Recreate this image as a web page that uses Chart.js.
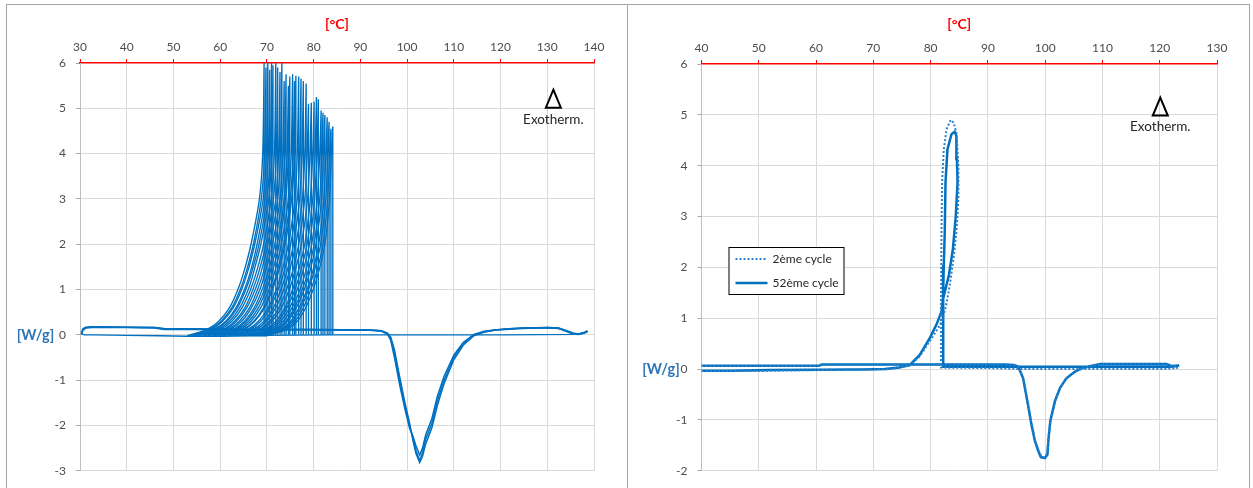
<!DOCTYPE html>
<html><head><meta charset="utf-8">
<script src="https://cdn.jsdelivr.net/npm/chart.js@4.4.1/dist/chart.umd.min.js"></script>
<style>
html,body{margin:0;padding:0;background:#fff;}
body{width:1253px;height:488px;position:relative;overflow:hidden;font-family:Lato,sans-serif;}
.panel{position:absolute;top:4px;height:490px;border:1px solid #a6a6a6;box-sizing:border-box;}
#p1{left:6px;width:622px;}
#p2{left:627px;width:623px;}
canvas{position:absolute;top:0;}
#c1{left:0;width:627px;height:488px;}
#c2{left:627px;width:626px;height:488px;}
</style></head><body>
<div class="panel" id="p1"></div><div class="panel" id="p2"></div>
<canvas id="c1" width="627" height="488"></canvas>
<canvas id="c2" width="626" height="488"></canvas>
<script>
// ---------- LEFT PANEL DATA (all cycles) ----------
const leftXTicks = [30,40,50,60,70,80,90,100,110,120,130,140];
const leftYTicks = [-3,-2,-1,0,1,2,3,4,5,6];
// heating runs (three overlapping cycles)
const heatT  = [30.3,30.6,31.2,32.5,35,40,46,48,60,80,92,94.5,95.8,96.5,97.3,98.4,99.5,100.5,101.3,101.9,102.7,103.3,104,105.3,106.5,107.9,110,112,114.3,116.5,118.6,121,124.7,130,132.4,134,135.5,136.7,138,138.6];
const heatW_a = [0.02,0.12,0.16,0.17,0.17,0.17,0.16,0.13,0.12,0.12,0.11,0.09,0.03,-0.08,-0.4,-1.0,-1.55,-2.0,-2.3,-2.55,-2.78,-2.6,-2.3,-1.95,-1.45,-1.0,-0.5,-0.2,0.0,0.07,0.1,0.13,0.15,0.16,0.15,0.09,0.03,0.02,0.05,0.08];
const heatW_b = [0.01,0.1,0.15,0.16,0.16,0.16,0.15,0.12,0.12,0.11,0.1,0.08,0.02,-0.12,-0.5,-1.1,-1.62,-2.05,-2.25,-2.45,-2.65,-2.5,-2.2,-1.85,-1.35,-0.92,-0.45,-0.17,0.01,0.08,0.11,0.13,0.15,0.15,0.14,0.08,0.02,0.01,0.04,0.07];
const heatW_c = [0.03,0.13,0.17,0.18,0.18,0.17,0.16,0.14,0.13,0.12,0.11,0.09,0.04,-0.05,-0.33,-0.92,-1.48,-1.93,-2.35,-2.62,-2.82,-2.68,-2.4,-2.05,-1.55,-1.08,-0.55,-0.23,-0.02,0.06,0.1,0.12,0.14,0.16,0.15,0.1,0.04,0.02,0.06,0.09];
// cooling line before crystallisation
const coolT = [138.6,137,120,100,84.1,69.4];
const coolW = [0.07,0.01,0.0,0.0,0.0,-0.01];
// baseline after crystallisation
const lowT = [70,66,60,53,47,40,33,31,30.3];
const lowW = [-0.02,-0.02,-0.03,-0.03,-0.02,-0.01,0.0,0.0,0.02];
// exotherm peaks: crystallisation temperature, peak height
const exoTc = [69.4,69.8,70.2,70.6,71.0,71.3,71.9,72.3,72.8,73.2,73.7,74.1,74.6,74.9,75.5,75.9,76.2,76.8,77.3,77.8,78.4,78.9,79.5,80.1,80.6,81.0,81.6,82.0,82.4,82.9,83.3,83.7,84.1];
const exoPeak = [6.0,5.9,6.0,5.85,6.0,5.95,6.0,5.9,5.8,6.0,5.6,5.75,5.5,5.7,5.75,5.6,5.72,5.7,5.65,5.6,5.55,5.1,5.12,5.15,5.25,5.2,4.95,4.9,4.85,4.8,4.7,4.55,4.6];
// W/g levels and the temperature where each decay curve crosses them
const exoLevels = [4,3,2,1.4,1,0.6,0.3,0.12,-0.02];
const exoCross = [
 [69.1,68.4,66.6,65.1,63.8,62.0,59.7,57.2,52.9],
 [69.5,68.8,67.1,65.6,64.3,62.5,60.2,57.7,53.4],
 [69.9,69.2,67.4,65.9,64.6,62.8,60.5,58.1,53.8],
 [70.3,69.6,67.9,66.5,65.2,63.4,61.2,58.7,54.4],
 [70.7,70.0,68.3,66.8,65.5,63.7,61.5,59.0,54.7],
 [71.0,70.4,68.7,67.2,66.0,64.2,62.0,59.5,55.2],
 [71.6,70.9,69.3,67.8,66.5,64.7,62.5,60.0,55.7],
 [72.0,71.4,69.8,68.3,67.0,65.3,63.1,60.7,56.4],
 [72.5,71.9,70.2,68.8,67.5,65.7,63.5,61.1,56.8],
 [72.9,72.3,70.7,69.3,68.0,66.3,64.1,61.7,57.4],
 [73.4,72.8,71.2,69.7,68.5,66.7,64.6,62.1,57.8],
 [73.8,73.2,71.7,70.3,69.0,67.3,65.2,62.8,58.5],
 [74.3,73.7,72.2,70.7,69.5,67.7,65.6,63.2,58.9],
 [74.6,74.0,72.6,71.2,69.9,68.2,66.1,63.7,59.4],
 [75.2,74.6,73.1,71.7,70.5,68.7,66.6,64.3,60.0],
 [75.6,75.0,73.6,72.2,71.0,69.3,67.2,64.9,60.6],
 [75.9,75.3,73.9,72.5,71.2,69.5,67.4,65.1,60.8],
 [76.5,76.0,74.6,73.2,72.0,70.3,68.2,65.9,61.6],
 [77.0,76.5,75.1,73.7,72.4,70.7,68.7,66.3,62.0],
 [77.5,77.0,75.7,74.3,73.0,71.4,69.4,67.0,62.7],
 [78.1,77.6,76.2,74.8,73.6,71.9,69.9,67.6,63.3],
 [78.6,78.1,76.8,75.5,74.2,72.6,70.6,68.3,64.0],
 [79.2,78.7,77.4,76.0,74.8,73.1,71.1,68.8,64.5],
 [79.8,79.3,78.1,76.7,75.5,73.9,71.9,69.6,65.3],
 [80.3,79.8,78.6,77.2,76.0,74.3,72.4,70.1,65.8],
 [80.7,80.2,79.1,77.7,76.5,74.9,72.9,70.7,66.4],
 [81.3,80.8,79.6,78.3,77.1,75.4,73.5,71.2,66.9],
 [81.7,81.3,80.1,78.8,77.6,75.9,74.1,71.8,67.5],
 [82.1,81.7,80.5,79.2,78.0,76.3,74.4,72.2,67.9],
 [82.6,82.2,81.1,79.8,78.6,76.9,75.1,72.9,68.6],
 [83.0,82.6,81.5,80.1,78.9,77.3,75.5,73.2,68.9],
 [83.4,83.0,82.0,80.7,79.4,77.8,76.0,73.8,69.5],
 [83.8,83.4,82.4,81.1,79.9,78.3,76.5,74.3,70.0]
];

// ---------- RIGHT PANEL DATA (2nd and 52nd cycle) ----------
const rightXTicks = [40,50,60,70,80,90,100,110,120,130];
const rightYTicks = [-2,-1,0,1,2,3,4,5,6];
const seriesNames = ['2ème cycle','52ème cycle'];
const c2T = [40,60.5,61,80,93,94.5,95.3,96.15,97.0,97.6,98.2,98.8,99.3,99.9,100.35,100.6,100.95,101.8,102.7,103.8,105.3,106.7,109.6,121.2,122.1,123.0,
             123.0,121,105.4,96.3,90,81.8,81.8,81.9,82.0,82.3,82.8,83.5,84.0,84.5,84.85,84.85,84.5,84.0,83.35,82.7,82.0,81.0,79.85,78.1,76.35,73,68.2,63.6,60,51.5,45,40];
const c2W = [0.06,0.06,0.085,0.085,0.085,0.075,0.045,-0.17,-0.68,-1.06,-1.38,-1.59,-1.71,-1.74,-1.66,-1.33,-1.0,-0.61,-0.35,-0.17,-0.05,0.02,0.09,0.09,0.05,0.06,
             0.02,0.0,0.0,0.0,0.02,0.03,1.2,2.69,3.67,4.32,4.72,4.9,4.85,4.65,4.0,3.35,2.69,2.17,1.65,1.25,0.95,0.75,0.55,0.25,0.07,0.0,-0.01,-0.01,-0.02,-0.035,-0.035,-0.035];
const c52T = [40,60.5,61,80,93,94.5,95.3,96.15,97.0,97.6,98.2,98.8,99.25,99.95,100.4,100.6,100.9,101.7,102.6,103.7,105.2,106.6,109.6,121.2,122.1,123.4,
              123.4,122,110,100,90,82.2,82.2,83.2,83.9,84.4,84.7,84.6,84.5,84.2,83.64,82.94,82.6,82.47,82.3,82.17,81.9,81.0,79.85,78.1,76.35,74.5,72,68,52,45,40];
const c52W = [0.065,0.065,0.09,0.09,0.09,0.08,0.05,-0.18,-0.7,-1.09,-1.41,-1.61,-1.73,-1.75,-1.68,-1.35,-1.02,-0.63,-0.37,-0.18,-0.05,0.03,0.1,0.1,0.06,0.07,
              0.07,0.045,0.045,0.045,0.045,0.045,1.39,1.85,2.37,3.02,3.67,4.13,4.59,4.67,4.62,4.32,3.67,2.69,2.04,1.39,1.13,0.87,0.61,0.28,0.08,0.03,0.0,-0.01,-0.02,-0.03,-0.03];

// ---------- helpers ----------
const BLUE = '#0070C0';
const pts = (T, W) => T.map((t, i) => ({x: t, y: W[i]}));

const decor = {
  id: 'decor',
  afterDatasetsDraw(chart, args, o) {
    const {ctx, chartArea: ca} = chart;
    const x = chart.scales.x, y = chart.scales.y;
    ctx.save();
    ctx.font = 'bold 14.5px Lato';
    ctx.fillStyle = '#2E75B6';
    ctx.textAlign = 'center';
    ctx.textBaseline = 'middle';
    ctx.fillText('[W/g]', o.yTitleX, y.getPixelForValue(0));
    const ax = x.getPixelForValue(o.exoT), ay = y.getPixelForValue(o.exoW);
    ctx.beginPath();
    ctx.moveTo(ax, ay); ctx.lineTo(ax + 7.5, ay + 18); ctx.lineTo(ax - 7.5, ay + 18); ctx.closePath();
    ctx.lineWidth = 2; ctx.strokeStyle = '#000'; ctx.stroke();
    ctx.font = '13.5px Lato';
    ctx.fillStyle = '#262626';
    ctx.fillText('Exotherm.', ax, ay + 29.5);
    if (o.legend) {
      const lx = ca.left + 27, ly = ca.top + 183;
      ctx.fillStyle = '#fff';
      ctx.fillRect(lx, ly, 116, 48);
      ctx.lineWidth = 1; ctx.strokeStyle = '#000';
      ctx.strokeRect(lx + 0.5, ly + 0.5, 115, 47);
      chart.data.datasets.forEach((ds, i) => {
        const yy = ly + 12 + i * 24;
        ctx.beginPath();
        ctx.setLineDash(ds.borderDash || []);
        ctx.lineWidth = ds.borderWidth; ctx.strokeStyle = ds.borderColor;
        ctx.moveTo(lx + 7, yy); ctx.lineTo(lx + 39, yy); ctx.stroke();
        ctx.setLineDash([]);
        ctx.font = '12px Lato'; ctx.fillStyle = '#262626';
        ctx.textAlign = 'left';
        ctx.fillText(ds.label, lx + 44, yy);
      });
    }
    ctx.restore();
  }
};

function scalesFor(xTicks, yTicks, yWidth, xHeight) {
  return {
    x: {
      type: 'linear', position: 'top',
      min: xTicks[0], max: xTicks[xTicks.length - 1],
      afterBuildTicks: s => { s.ticks = xTicks.map(v => ({value: v})); },
      afterFit: s => { s.height = xHeight; },
      ticks: {color: '#4d4d4d', font: {family: 'Lato', size: 12}, padding: 5, maxRotation: 0, callback: v => String(v)},
      grid: {color: '#d9d9d9', tickColor: '#ff0000', tickLength: 4, lineWidth: 1},
      border: {color: '#ff0000', width: 1.5},
      title: {display: true, text: '[°C]', color: '#ff0000', font: {family: 'Lato', size: 14, weight: 'bold'}, padding: {top: 16, bottom: 0}}
    },
    y: {
      type: 'linear', position: 'left',
      min: yTicks[0], max: yTicks[yTicks.length - 1],
      afterBuildTicks: s => { s.ticks = yTicks.map(v => ({value: v})); },
      afterFit: s => { s.width = yWidth; },
      ticks: {color: '#4d4d4d', font: {family: 'Lato', size: 12}, padding: 10, callback: v => String(v)},
      grid: {color: c => (c.tick && c.tick.value === yTicks[yTicks.length - 1]) ? 'rgba(0,0,0,0)' : '#d9d9d9', tickColor: '#a6a6a6', tickLength: 4},
      border: {color: '#bfbfbf', width: 1}
    }
  };
}

// ---------- LEFT CHART ----------
const leftSets = [];
[heatW_a, heatW_b, heatW_c].forEach(w => leftSets.push({data: pts(heatT, w), borderWidth: 1.5}));
leftSets.push({data: pts(coolT, coolW), borderWidth: 1.2});
leftSets.push({data: pts(lowT, lowW), borderWidth: 1.3});
exoTc.forEach((tc, i) => {
  const d = [{x: tc, y: 0.0}, {x: tc, y: exoPeak[i]}, {x: tc, y: exoPeak[i]}];
  exoCross[i].forEach((t, k) => d.push({x: t, y: exoLevels[k]}));
  leftSets.push({data: d, borderWidth: 1.35, tension: 0.3});
});
leftSets.forEach(ds => Object.assign(ds, {showLine: true, pointRadius: 0, borderColor: BLUE, fill: false, tension: ds.tension || 0}));

new Chart(document.getElementById('c1'), {
  type: 'scatter',
  data: {datasets: leftSets},
  options: {
    responsive: false, animation: false, events: [],
    layout: {padding: {left: 0, right: 33, top: 0, bottom: 15}},
    scales: scalesFor(leftXTicks, leftYTicks, 80, 63),
    plugins: {legend: {display: false}, tooltip: {enabled: false},
      decor: {yTitleX: 35.5, exoT: 131.3, exoW: 5.41, legend: false}}
  },
  plugins: [decor]
});

// ---------- RIGHT CHART ----------
new Chart(document.getElementById('c2'), {
  type: 'scatter',
  data: {datasets: [
    {label: seriesNames[0], data: pts(c2T, c2W), showLine: true, pointRadius: 0, borderColor: '#2A80CC', borderWidth: 2, borderDash: [2, 2], tension: 0},
    {label: seriesNames[1], data: pts(c52T, c52W), showLine: true, pointRadius: 0, borderColor: BLUE, borderWidth: 2.5, tension: 0}
  ]},
  options: {
    responsive: false, animation: false, events: [],
    layout: {padding: {left: 0, right: 36, top: 0, bottom: 15}},
    scales: scalesFor(rightXTicks, rightYTicks, 74.5, 64),
    plugins: {legend: {display: false}, tooltip: {enabled: false},
      decor: {yTitleX: 34, exoT: 120.1, exoW: 5.34, legend: true}}
  },
  plugins: [decor]
});
</script>
</body></html>
